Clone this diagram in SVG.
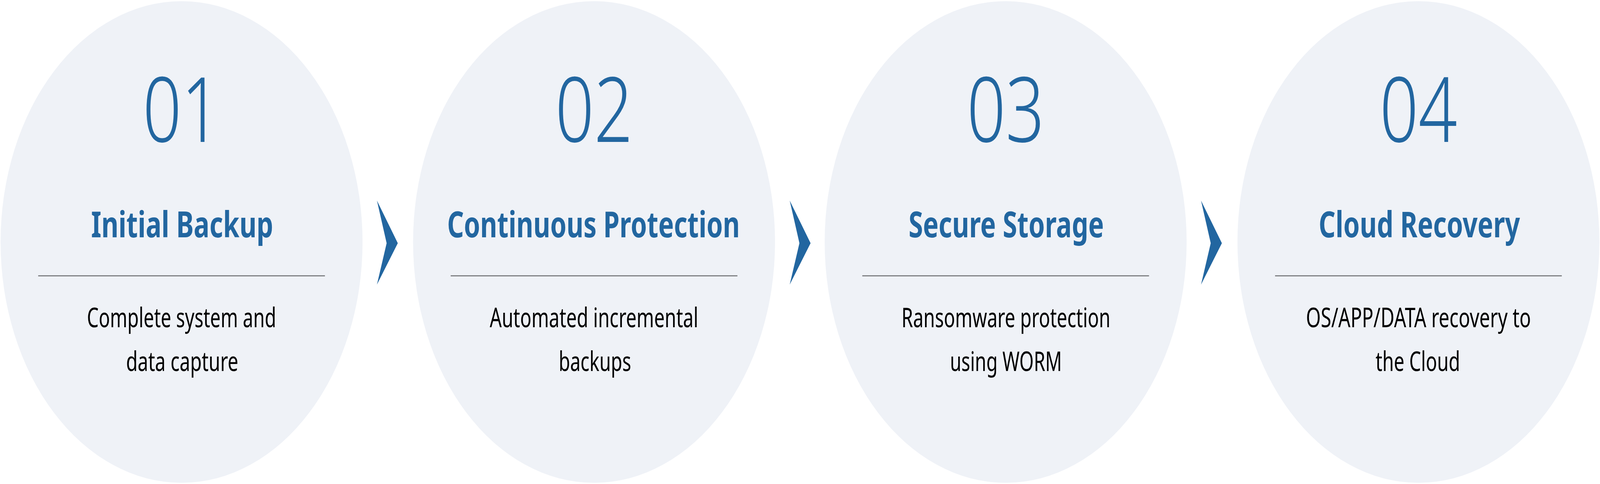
<svg xmlns="http://www.w3.org/2000/svg" width="5446" height="1238" viewBox="0 0 5446 1238" preserveAspectRatio="none">
  <style>
    svg:root { width: 100vw; height: 100vh; display: block; }
    .bg { fill: #ffffff; }
    .circle { fill: #eff2f7; }
    .num { font-family: "Noto Sans", "Open Sans", "DejaVu Sans", sans-serif; font-weight: 300; font-size: 231px; fill: #2266a0; text-anchor: middle; }
    .title { font-family: "Noto Sans", "Open Sans", "DejaVu Sans", sans-serif; font-weight: 700; font-size: 92px; fill: #2266a0; text-anchor: middle; }
    .desc { font-family: "Noto Sans", "Open Sans", "DejaVu Sans", sans-serif; font-weight: 400; font-size: 70px; fill: #000000; text-anchor: middle; }
    .rule { stroke: #808285; stroke-width: 3; }
    .chev { fill: #2266a0; }
  </style>
  <rect class="bg" x="0" y="0" width="5446" height="1238"/>

  <g id="step1">
    <circle class="circle" cx="618" cy="619" r="616"/>
    <text class="num" x="618" y="363">01</text>
    <text class="title" x="620" y="607" textLength="620" lengthAdjust="spacingAndGlyphs">Initial Backup</text>
    <line class="rule" x1="130" y1="705.5" x2="1106" y2="705.5"/>
    <text class="desc" x="618" y="837" textLength="644" lengthAdjust="spacingAndGlyphs">Complete system and</text>
    <text class="desc" x="620" y="949" textLength="382" lengthAdjust="spacingAndGlyphs">data capture</text>
  </g>

  <g id="step2">
    <circle class="circle" cx="2022" cy="619" r="616"/>
    <text class="num" x="2022" y="363">02</text>
    <text class="title" x="2020" y="607" textLength="996" lengthAdjust="spacingAndGlyphs">Continuous Protection</text>
    <line class="rule" x1="1534" y1="705.5" x2="2510" y2="705.5"/>
    <text class="desc" x="2022" y="837" textLength="710" lengthAdjust="spacingAndGlyphs">Automated incremental</text>
    <text class="desc" x="2025" y="949" textLength="247" lengthAdjust="spacingAndGlyphs">backups</text>
  </g>

  <g id="step3">
    <circle class="circle" cx="3423" cy="619" r="616"/>
    <text class="num" x="3423" y="363">03</text>
    <text class="title" x="3425" y="607" textLength="665" lengthAdjust="spacingAndGlyphs">Secure Storage</text>
    <line class="rule" x1="2935" y1="705.5" x2="3911" y2="705.5"/>
    <text class="desc" x="3424" y="837" textLength="711" lengthAdjust="spacingAndGlyphs">Ransomware protection</text>
    <text class="desc" x="3424" y="949" textLength="381" lengthAdjust="spacingAndGlyphs">using WORM</text>
  </g>

  <g id="step4">
    <circle class="circle" cx="4828" cy="619" r="616"/>
    <text class="num" x="4828" y="363">04</text>
    <text class="title" x="4831" y="607" textLength="685" lengthAdjust="spacingAndGlyphs">Cloud Recovery</text>
    <line class="rule" x1="4340" y1="705.5" x2="5316" y2="705.5"/>
    <text class="desc" x="4828" y="837" textLength="766" lengthAdjust="spacingAndGlyphs">OS/APP/DATA recovery to</text>
    <text class="desc" x="4826" y="949" textLength="288" lengthAdjust="spacingAndGlyphs">the Cloud</text>
  </g>

  <g id="connectors">
    <path class="chev" d="M1283,513 L1354,622 L1283,728 L1316,622 Z"/>
    <path class="chev" d="M2688,513 L2759,622 L2688,728 L2721,622 Z"/>
    <path class="chev" d="M4088,513 L4159,622 L4088,728 L4121,622 Z"/>
  </g>
</svg>
